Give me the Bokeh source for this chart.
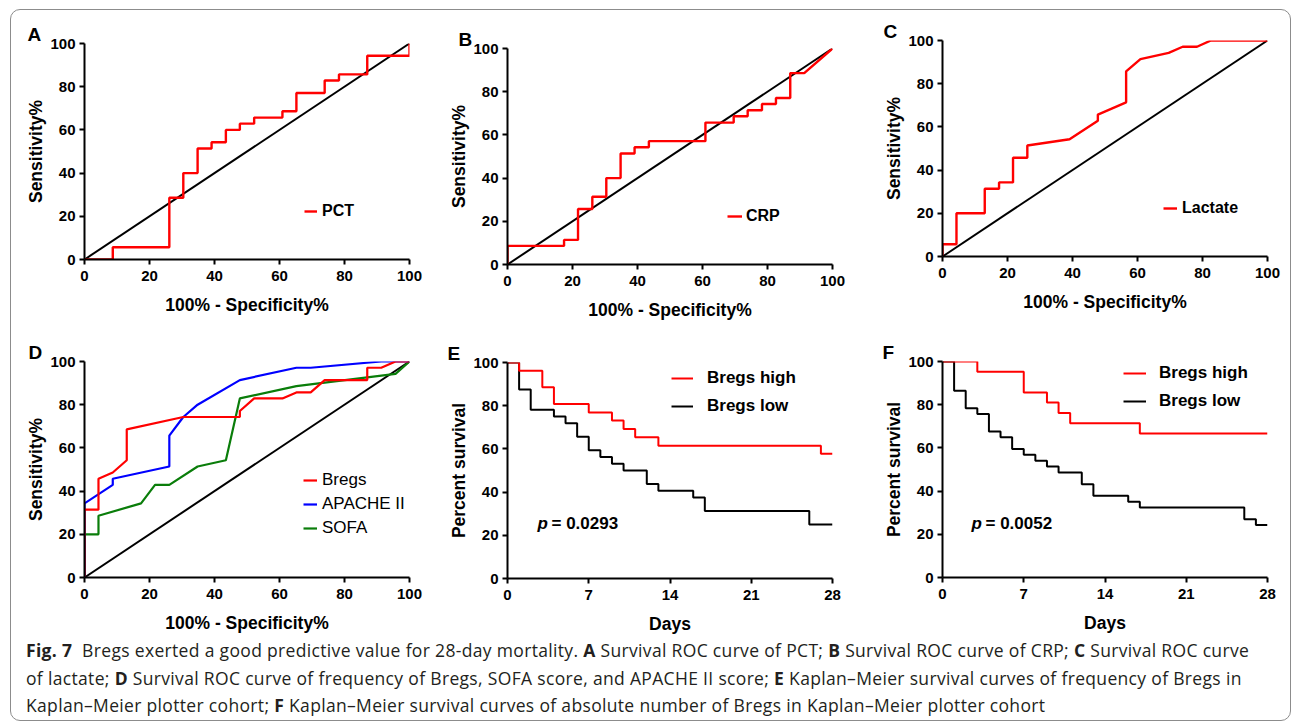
from bokeh.plotting import figure
from bokeh.models import Range1d, Legend, LegendItem, Label, Div, FixedTicker, Title
from bokeh.layouts import column, row
from bokeh.embed import file_html
from bokeh.resources import INLINE

FONT = "Liberation Sans"
RED = "#ff0000"
BLUE = "#0000ff"
GREEN = "#0a7d0a"

# ---------------- data ----------------
roc_ticks = [0, 20, 40, 60, 80, 100]
km_ticks = [0, 7, 14, 21, 28]
diag_x = [0, 100]
diag_y = [0, 100]

# A: PCT ROC
pct_x = [0, 8.7, 8.7, 26.1, 26.1, 30.4, 30.4, 34.8, 34.8, 39.1, 39.1, 43.5, 43.5, 47.8, 47.8,
         52.2, 52.2, 60.9, 60.9, 65.2, 65.2, 73.9, 73.9, 78.3, 78.3, 87.0, 87.0, 100, 100]
pct_y = [0, 0, 5.7, 5.7, 28.6, 28.6, 40.0, 40.0, 51.4, 51.4, 54.3, 54.3, 60.0, 60.0, 62.9,
         62.9, 65.7, 65.7, 68.6, 68.6, 77.1, 77.1, 82.9, 82.9, 85.7, 85.7, 94.3, 94.3, 100]

# B: CRP ROC
crp_x = [0, 0, 17.4, 17.4, 21.7, 21.7, 26.1, 26.1, 30.4, 30.4, 34.8, 34.8, 39.1, 39.1, 43.5, 43.5,
         60.9, 60.9, 69.6, 69.6, 73.9, 73.9, 78.3, 78.3, 82.6, 82.6, 87.0, 87.0, 91.3, 100]
crp_y = [0, 8.6, 8.6, 11.4, 11.4, 25.7, 25.7, 31.4, 31.4, 40.0, 40.0, 51.4, 51.4, 54.3, 54.3, 57.1,
         57.1, 65.7, 65.7, 68.6, 68.6, 71.4, 71.4, 74.3, 74.3, 77.1, 77.1, 88.6, 88.6, 100]

# C: Lactate ROC
lac_x = [0, 0, 4.3, 4.3, 13.0, 13.0, 17.4, 17.4, 21.7, 21.7, 26.1, 26.1, 39.1, 47.8, 47.8,
         56.5, 56.5, 60.9, 69.6, 73.9, 78.3, 82.6, 100]
lac_y = [0, 5.7, 5.7, 20.0, 20.0, 31.4, 31.4, 34.3, 34.3, 45.7, 45.7, 51.4, 54.3, 62.9, 65.7,
         71.4, 85.7, 91.4, 94.3, 97.1, 97.1, 100, 100]

# D: Bregs / APACHE II / SOFA ROC
bregs_x = [0, 0, 4.3, 4.3, 8.7, 13.0, 13.0, 30.4, 47.8, 47.8, 52.2, 60.9, 65.2, 69.6, 73.9,
           87.0, 87.0, 91.3, 95.7, 100]
bregs_y = [0, 31.4, 31.4, 45.7, 48.6, 54.3, 68.6, 74.3, 74.3, 77.1, 82.9, 82.9, 85.7, 85.7, 91.4,
           91.4, 97.1, 97.1, 100, 100]
apache_x = [0, 0, 8.7, 8.7, 26.1, 26.1, 30.4, 34.8, 47.8, 65.2, 69.6, 91.3, 100]
apache_y = [0, 34.3, 42.9, 45.7, 51.4, 65.7, 74.3, 80.0, 91.4, 97.1, 97.1, 100, 100]
sofa_x = [0, 0, 4.3, 4.3, 17.4, 21.7, 26.1, 34.8, 43.5, 47.8, 65.2, 95.7, 100]
sofa_y = [0, 20.0, 20.0, 28.6, 34.3, 42.9, 42.9, 51.4, 54.3, 82.9, 88.6, 94.3, 100]

# E: Kaplan-Meier, frequency of Bregs
e_high_t = [0, 1, 3, 4, 7, 9, 10, 11, 13, 27, 28]
e_high_s = [100, 96.2, 88.5, 80.8, 76.9, 73.1, 69.2, 65.4, 61.5, 57.7, 57.7]
e_low_t = [0, 1, 2, 4, 5, 6, 7, 8, 9, 10, 12, 13, 16, 17, 26, 28]
e_low_s = [100, 87.5, 78.1, 75.0, 71.9, 65.6, 59.4, 56.3, 53.1, 50.0, 43.8, 40.6, 37.5, 31.3, 25.0, 25.0]
e_p = "= 0.0293"

# F: Kaplan-Meier, absolute number of Bregs
f_high_t = [0, 3, 7, 9, 10, 11, 17, 28]
f_high_s = [100, 95.2, 85.7, 81.0, 76.2, 71.4, 66.7, 66.7]
f_low_t = [0, 1, 2, 3, 4, 5, 6, 7, 8, 9, 10, 12, 13, 16, 17, 26, 27, 28]
f_low_s = [100, 86.5, 78.4, 75.7, 67.6, 64.9, 59.5, 56.8, 54.1, 51.4, 48.6, 43.2, 37.8, 35.1,
           32.4, 27.0, 24.3, 24.3]
f_p = "= 0.0052"

roc_xlabel = "100% - Specificity%"
roc_ylabel = "Sensitivity%"
km_xlabel = "Days"
km_ylabel = "Percent survival"


# ---------------- helpers ----------------
def make_fig(width, height, left, right, top, bottom, xmax, xticks, xlabel, ylabel, letter, loff,
             dy=0):
    kw = {}
    if dy:
        kw["styles"] = {"transform": "translateY(%dpx)" % dy}
    p = figure(width=width, height=height, x_range=Range1d(0, xmax), y_range=Range1d(0, 100),
               output_backend="svg", toolbar_location=None,
               min_border_left=left, min_border_right=right,
               min_border_top=top, min_border_bottom=bottom, **kw)
    p.outline_line_color = None
    p.background_fill_color = None
    p.border_fill_color = None
    p.xgrid.visible = False
    p.ygrid.visible = False
    p.xaxis.ticker = FixedTicker(ticks=xticks)
    p.yaxis.ticker = FixedTicker(ticks=roc_ticks)
    p.xaxis.axis_label = xlabel
    p.yaxis.axis_label = ylabel
    for ax in (p.xaxis[0], p.yaxis[0]):
        ax.axis_line_width = 2
        ax.axis_line_color = "black"
        ax.major_tick_line_width = 2
        ax.major_tick_line_color = "black"
        ax.major_tick_out = 5
        ax.major_tick_in = 0
        ax.minor_tick_line_color = None
        ax.major_label_text_font = FONT
        ax.major_label_text_font_style = "bold"
        ax.major_label_text_font_size = "15px"
        ax.major_label_text_color = "black"
        ax.axis_label_text_font = FONT
        ax.axis_label_text_font_style = "bold"
        ax.axis_label_text_font_size = "17.5px"
        ax.axis_label_text_color = "black"
    p.yaxis.major_label_standoff = 4
    p.yaxis.axis_label_standoff = 1
    p.xaxis.major_label_standoff = 6
    p.xaxis.axis_label_standoff = 11
    p.add_layout(Title(text=letter, align="left", offset=loff, standoff=-3,
                       vertical_align="bottom", text_font=FONT, text_font_style="bold",
                       text_font_size="19px", text_color="black"), "above")
    return p


def add_legend(p, items, loc, glyph_w, standoff, spacing, style, size="16px", h=20):
    leg = Legend(items=items, location=loc, padding=0, margin=0, spacing=spacing,
                 glyph_width=glyph_w, glyph_height=h, label_height=h,
                 label_standoff=standoff, border_line_color=None, background_fill_alpha=0,
                 label_text_font=FONT, label_text_font_style=style,
                 label_text_font_size=size, label_text_color="black")
    p.add_layout(leg)


def roc_panel(width, height, left, right, top, bottom, letter, loff, dy=0):
    p = make_fig(width, height, left, right, top, bottom, 100, roc_ticks, roc_xlabel, roc_ylabel,
                 letter, loff, dy)
    p.line(diag_x, diag_y, line_color="black", line_width=2)
    return p


def p_value(p, text, x, y):
    p.add_layout(Label(x=x, y=y, x_units="screen", y_units="screen", text="p",
                       text_font=FONT, text_font_style="bold italic", text_font_size="17px",
                       text_baseline="middle", text_color="black"))
    p.add_layout(Label(x=x + 14, y=y, x_units="screen", y_units="screen", text=text,
                       text_font=FONT, text_font_style="bold", text_font_size="17px",
                       text_baseline="middle", text_color="black"))


# ---------------- panels ----------------
pA = roc_panel(420, 321, 74, 21, 34, 71, "A", -57)
rA = pA.line(pct_x, pct_y, line_color=RED, line_width=2.4)
add_legend(pA, [LegendItem(label="PCT", renderers=[rA])], (220, 38), 13, 5, 0, "bold")

pB = roc_panel(430, 321, 77, 28, 34, 71, "B", -49, dy=5)
rB = pB.line(crp_x, crp_y, line_color=RED, line_width=2.4)
add_legend(pB, [LegendItem(label="CRP", renderers=[rB])], (220, 38), 15, 4, 0, "bold")

pC = roc_panel(431, 321, 82, 24, 34, 71, "C", -59, dy=-3)
rC = pC.line(lac_x, lac_y, line_color=RED, line_width=2.4)
add_legend(pC, [LegendItem(label="Lactate", renderers=[rC])], (221, 38), 14, 5, 0, "bold")

pD = roc_panel(420, 306, 74, 21, 31, 59, "D", -56)
rD3 = pD.line(sofa_x, sofa_y, line_color=GREEN, line_width=2.2)
rD2 = pD.line(apache_x, apache_y, line_color=BLUE, line_width=2.2)
rD1 = pD.line(bregs_x, bregs_y, line_color=RED, line_width=2.2)
add_legend(pD, [LegendItem(label="Bregs", renderers=[rD1]),
                LegendItem(label="APACHE II", renderers=[rD2]),
                LegendItem(label="SOFA", renderers=[rD3])], (219, 39), 14, 5, 4, "normal", "17px")

pE = make_fig(430, 306, 77, 28, 31, 59, 28, km_ticks, km_xlabel, km_ylabel, "E", -60, dy=1)
rEl = pE.step(e_low_t, e_low_s, mode="after", line_color="black", line_width=2)
rEh = pE.step(e_high_t, e_high_s, mode="after", line_color=RED, line_width=2)
add_legend(pE, [LegendItem(label="Bregs high", renderers=[rEh]),
                LegendItem(label="Bregs low", renderers=[rEl])], (164, 162), 22, 14, 8,
           "bold", "17px", 18)
p_value(pE, e_p, 30, 55)

pF = make_fig(431, 306, 82, 24, 31, 59, 28, km_ticks, km_xlabel, km_ylabel, "F", -60)
rFl = pF.step(f_low_t, f_low_s, mode="after", line_color="black", line_width=2)
rFh = pF.step(f_high_t, f_high_s, mode="after", line_color=RED, line_width=2)
add_legend(pF, [LegendItem(label="Bregs high", renderers=[rFh]),
                LegendItem(label="Bregs low", renderers=[rFl])], (181, 166), 23, 13, 8,
           "bold", "17px", 18)
p_value(pF, f_p, 29, 54)

caption_lines = [
    "<b>Fig. 7</b>&nbsp; Bregs exerted a good predictive value for 28-day mortality. <b>A</b> Survival ROC curve of PCT; "
    "<b>B</b> Survival ROC curve of CRP; <b>C</b> Survival ROC curve",
    "of lactate; <b>D</b> Survival ROC curve of frequency of Bregs, SOFA score, and APACHE II score; "
    "<b>E</b> Kaplan\u2013Meier survival curves of frequency of Bregs in",
    "Kaplan\u2013Meier plotter cohort; <b>F</b> Kaplan\u2013Meier survival curves of absolute number of Bregs in "
    "Kaplan\u2013Meier plotter cohort",
]
cap_html = ('<div style="font-family: \'Open Sans\', sans-serif; font-size: 17.5px; '
            'letter-spacing: 0.33px; line-height: 27.5px; margin-top: -4px; '
            'color: #231f20; padding-left: 11px; white-space: nowrap;">'
            + "<br>".join(caption_lines) + "</div>")
caption = Div(text=cap_html, width=1281, height=85)

root = column(row(pA, pB, pC), row(pD, pE, pF), caption, width=1281, height=712,
              styles={"outline": "1px solid #8c8c8c", "outline-offset": "-1px",
                      "border-radius": "10px", "transform": "translate(10px, 9px)",
                      "width": "1281px", "height": "712px", "overflow": "visible"})

open("out.html", "w").write(file_html(root, INLINE))
